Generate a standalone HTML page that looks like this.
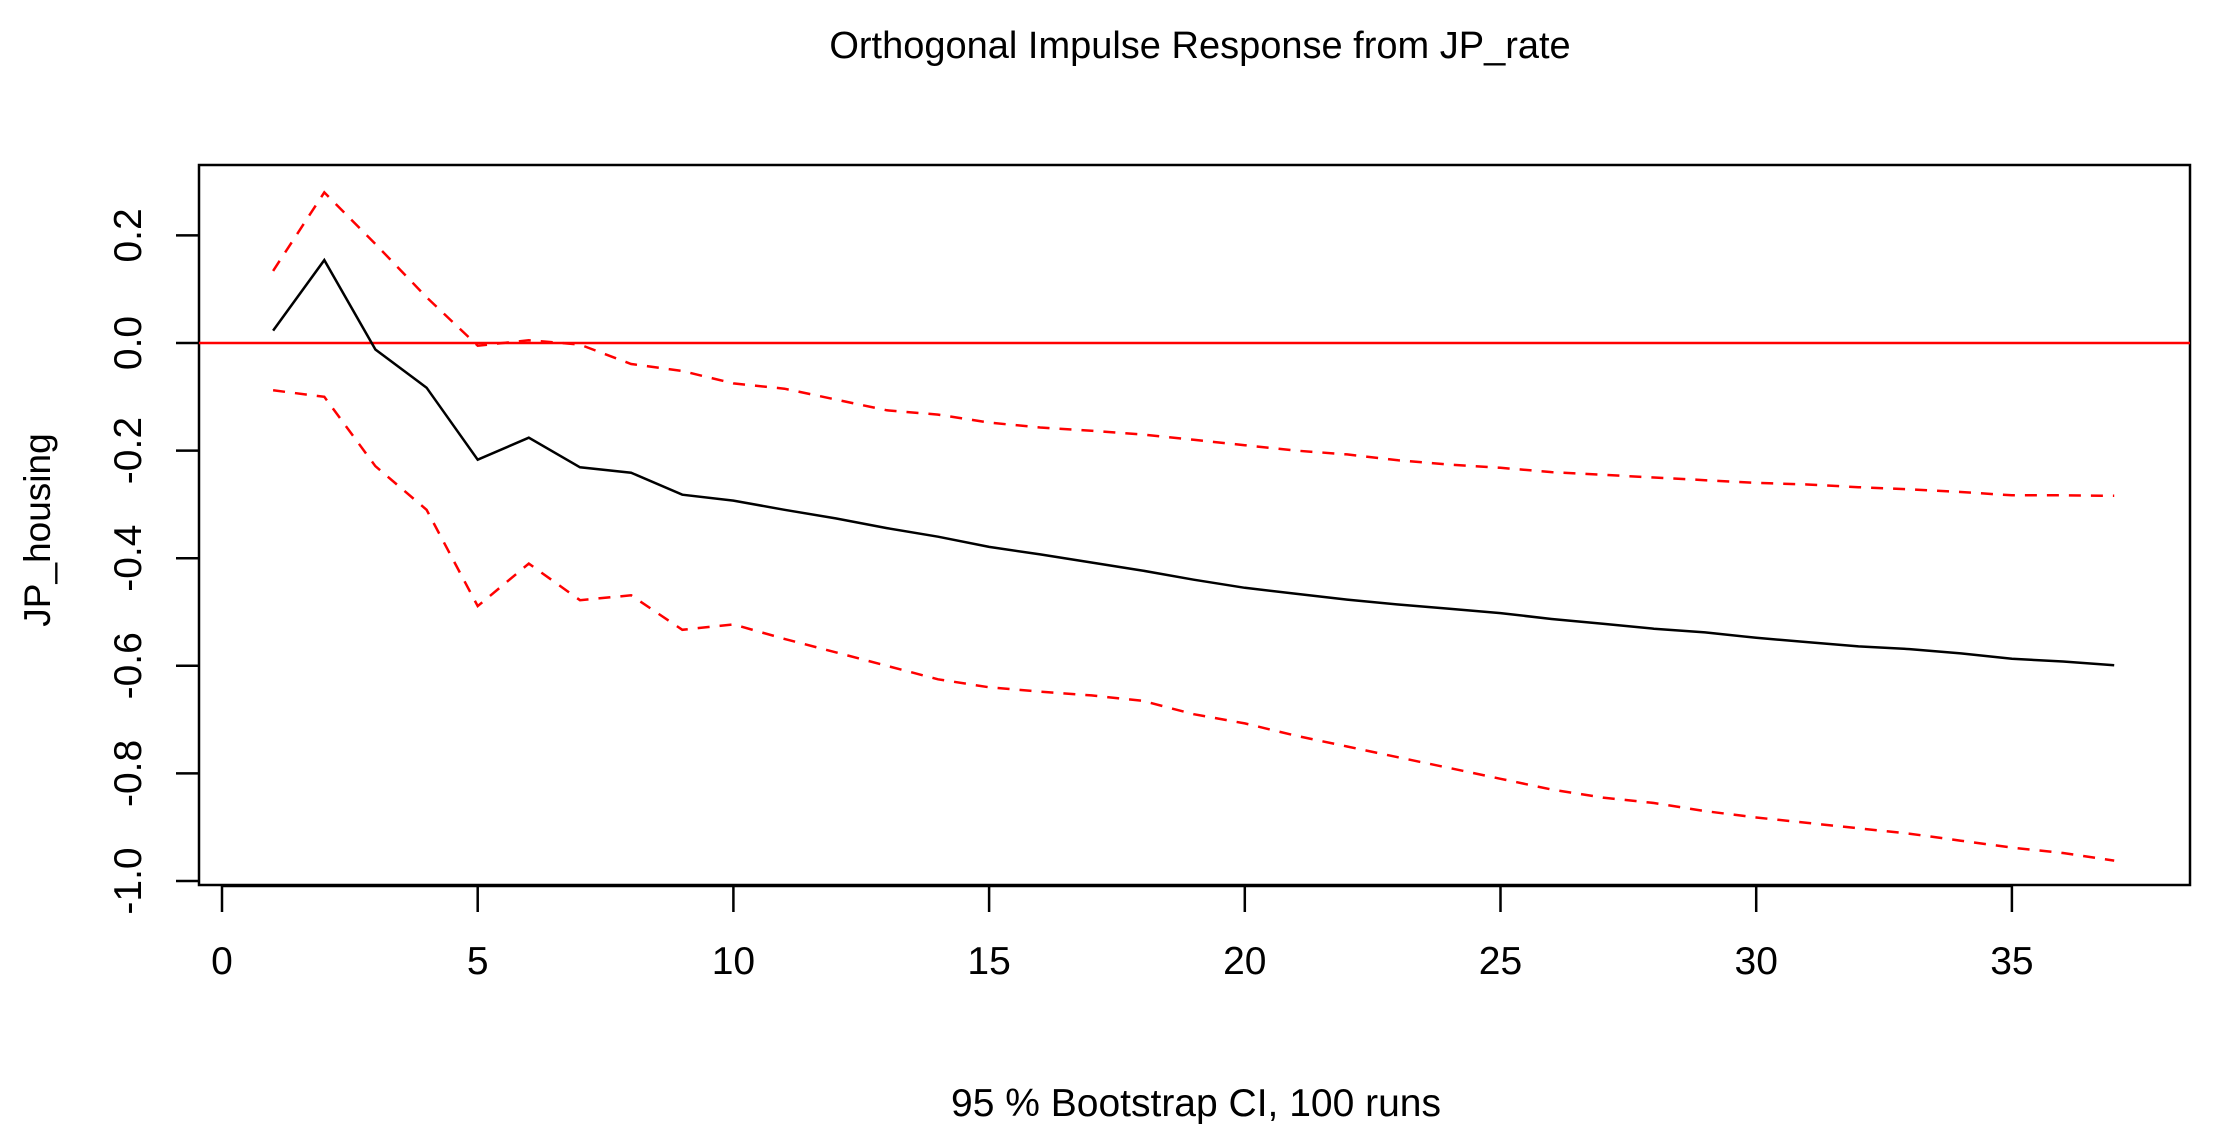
<!DOCTYPE html>
<html><head><meta charset="utf-8"><style>
html,body{margin:0;padding:0;background:#fff;}
svg{display:block;font-family:"Liberation Sans",Arial,sans-serif;}
</style></head><body>
<svg id="chart" width="2226" height="1148" viewBox="0 0 2226 1148">
<text x="1200" y="58" font-size="38" text-anchor="middle">Orthogonal Impulse Response from JP_rate</text>
<text x="1196" y="1116" font-size="39" text-anchor="middle">95 % Bootstrap CI,  100 runs</text>
<text transform="translate(50,530) rotate(-90)" font-size="37" text-anchor="middle">JP_housing</text>
<rect x="199" y="165" width="1991" height="720" fill="none" stroke="#000" stroke-width="2.5"/>
<g id="xaxis"></g>
<g id="yaxis"></g>
<g id="series"></g>
</svg>
<script>
const xTicks = [0,5,10,15,20,25,30,35];
const yTicks = [0.2,0.0,-0.2,-0.4,-0.6,-0.8,-1.0];
const yTickLabels = ["0.2","0.0","-0.2","-0.4","-0.6","-0.8","-1.0"];
const steps = [1,2,3,4,5,6,7,8,9,10,11,12,13,14,15,16,17,18,19,20,21,22,23,24,25,26,27,28,29,30,31,32,33,34,35,36,37];
const irf = [0.023,0.154,-0.012,-0.083,-0.217,-0.176,-0.231,-0.241,-0.282,-0.293,-0.31,-0.326,-0.344,-0.36,-0.379,-0.393,-0.408,-0.423,-0.44,-0.455,-0.466,-0.477,-0.486,-0.494,-0.502,-0.513,-0.522,-0.531,-0.538,-0.548,-0.556,-0.564,-0.569,-0.577,-0.587,-0.592,-0.599];
const upper = [0.134,0.28,0.184,0.085,-0.005,0.005,-0.003,-0.039,-0.052,-0.075,-0.085,-0.105,-0.125,-0.133,-0.148,-0.157,-0.163,-0.17,-0.18,-0.19,-0.2,-0.207,-0.218,-0.226,-0.232,-0.24,-0.245,-0.25,-0.255,-0.26,-0.263,-0.268,-0.272,-0.277,-0.283,-0.283,-0.284];
const lower = [-0.088,-0.1,-0.229,-0.31,-0.489,-0.41,-0.478,-0.469,-0.533,-0.523,-0.55,-0.575,-0.6,-0.625,-0.64,-0.648,-0.655,-0.665,-0.69,-0.707,-0.73,-0.75,-0.77,-0.79,-0.81,-0.83,-0.845,-0.855,-0.87,-0.882,-0.892,-0.902,-0.912,-0.925,-0.938,-0.948,-0.962];

const NS="http://www.w3.org/2000/svg";
function xs(v){return 222+51.14*v;}
function ys(v){return 343-538*v;}
function mk(tag,attrs,parent){const e=document.createElementNS(NS,tag);for(const k in attrs)e.setAttribute(k,attrs[k]);parent.appendChild(e);return e;}

const xg=document.getElementById('xaxis');
const xl=mk('line',{x1:xs(xTicks[0]),x2:xs(xTicks[xTicks.length-1]),y1:886,y2:886,stroke:'#000','stroke-width':2.5},xg);


xTicks.forEach(t=>{
  const l=mk('line',{x1:xs(t),x2:xs(t),y1:885,y2:912,stroke:'#000','stroke-width':2.5},xg);
  
  
  const tx=mk('text',{x:xs(t),y:974,'font-size':39,'text-anchor':'middle'},xg);
  tx.textContent=String(t);
  
  
});
const yg=document.getElementById('yaxis');
yTicks.forEach((t,i)=>{
  const l=mk('line',{x1:176,x2:199,y1:ys(t),y2:ys(t),stroke:'#000','stroke-width':2.5},yg);
  
  
  const tx=mk('text',{transform:'translate(141,'+ys(t)+') rotate(-90)','font-size':39,'text-anchor':'middle'},yg);
  tx.textContent=yTickLabels[i];
  
  
});
const sg=document.getElementById('series');
const zl=mk('line',{x1:199,x2:2190,y1:ys(0),y2:ys(0),stroke:'#ff0000','stroke-width':2.5},sg);


function path(vals){return vals.map((v,i)=>(i?'L':'M')+xs(steps[i]).toFixed(1)+','+ys(v).toFixed(1)).join(' ');}
const pu=mk('path',{d:path(upper),fill:'none',stroke:'#ff0000','stroke-width':2.5,'stroke-dasharray':'12,10'},sg);


const pl=mk('path',{d:path(lower),fill:'none',stroke:'#ff0000','stroke-width':2.5,'stroke-dasharray':'12,10'},sg);


const pm=mk('path',{d:path(irf),fill:'none',stroke:'#000','stroke-width':2.5},sg);


</script>
</body></html>
